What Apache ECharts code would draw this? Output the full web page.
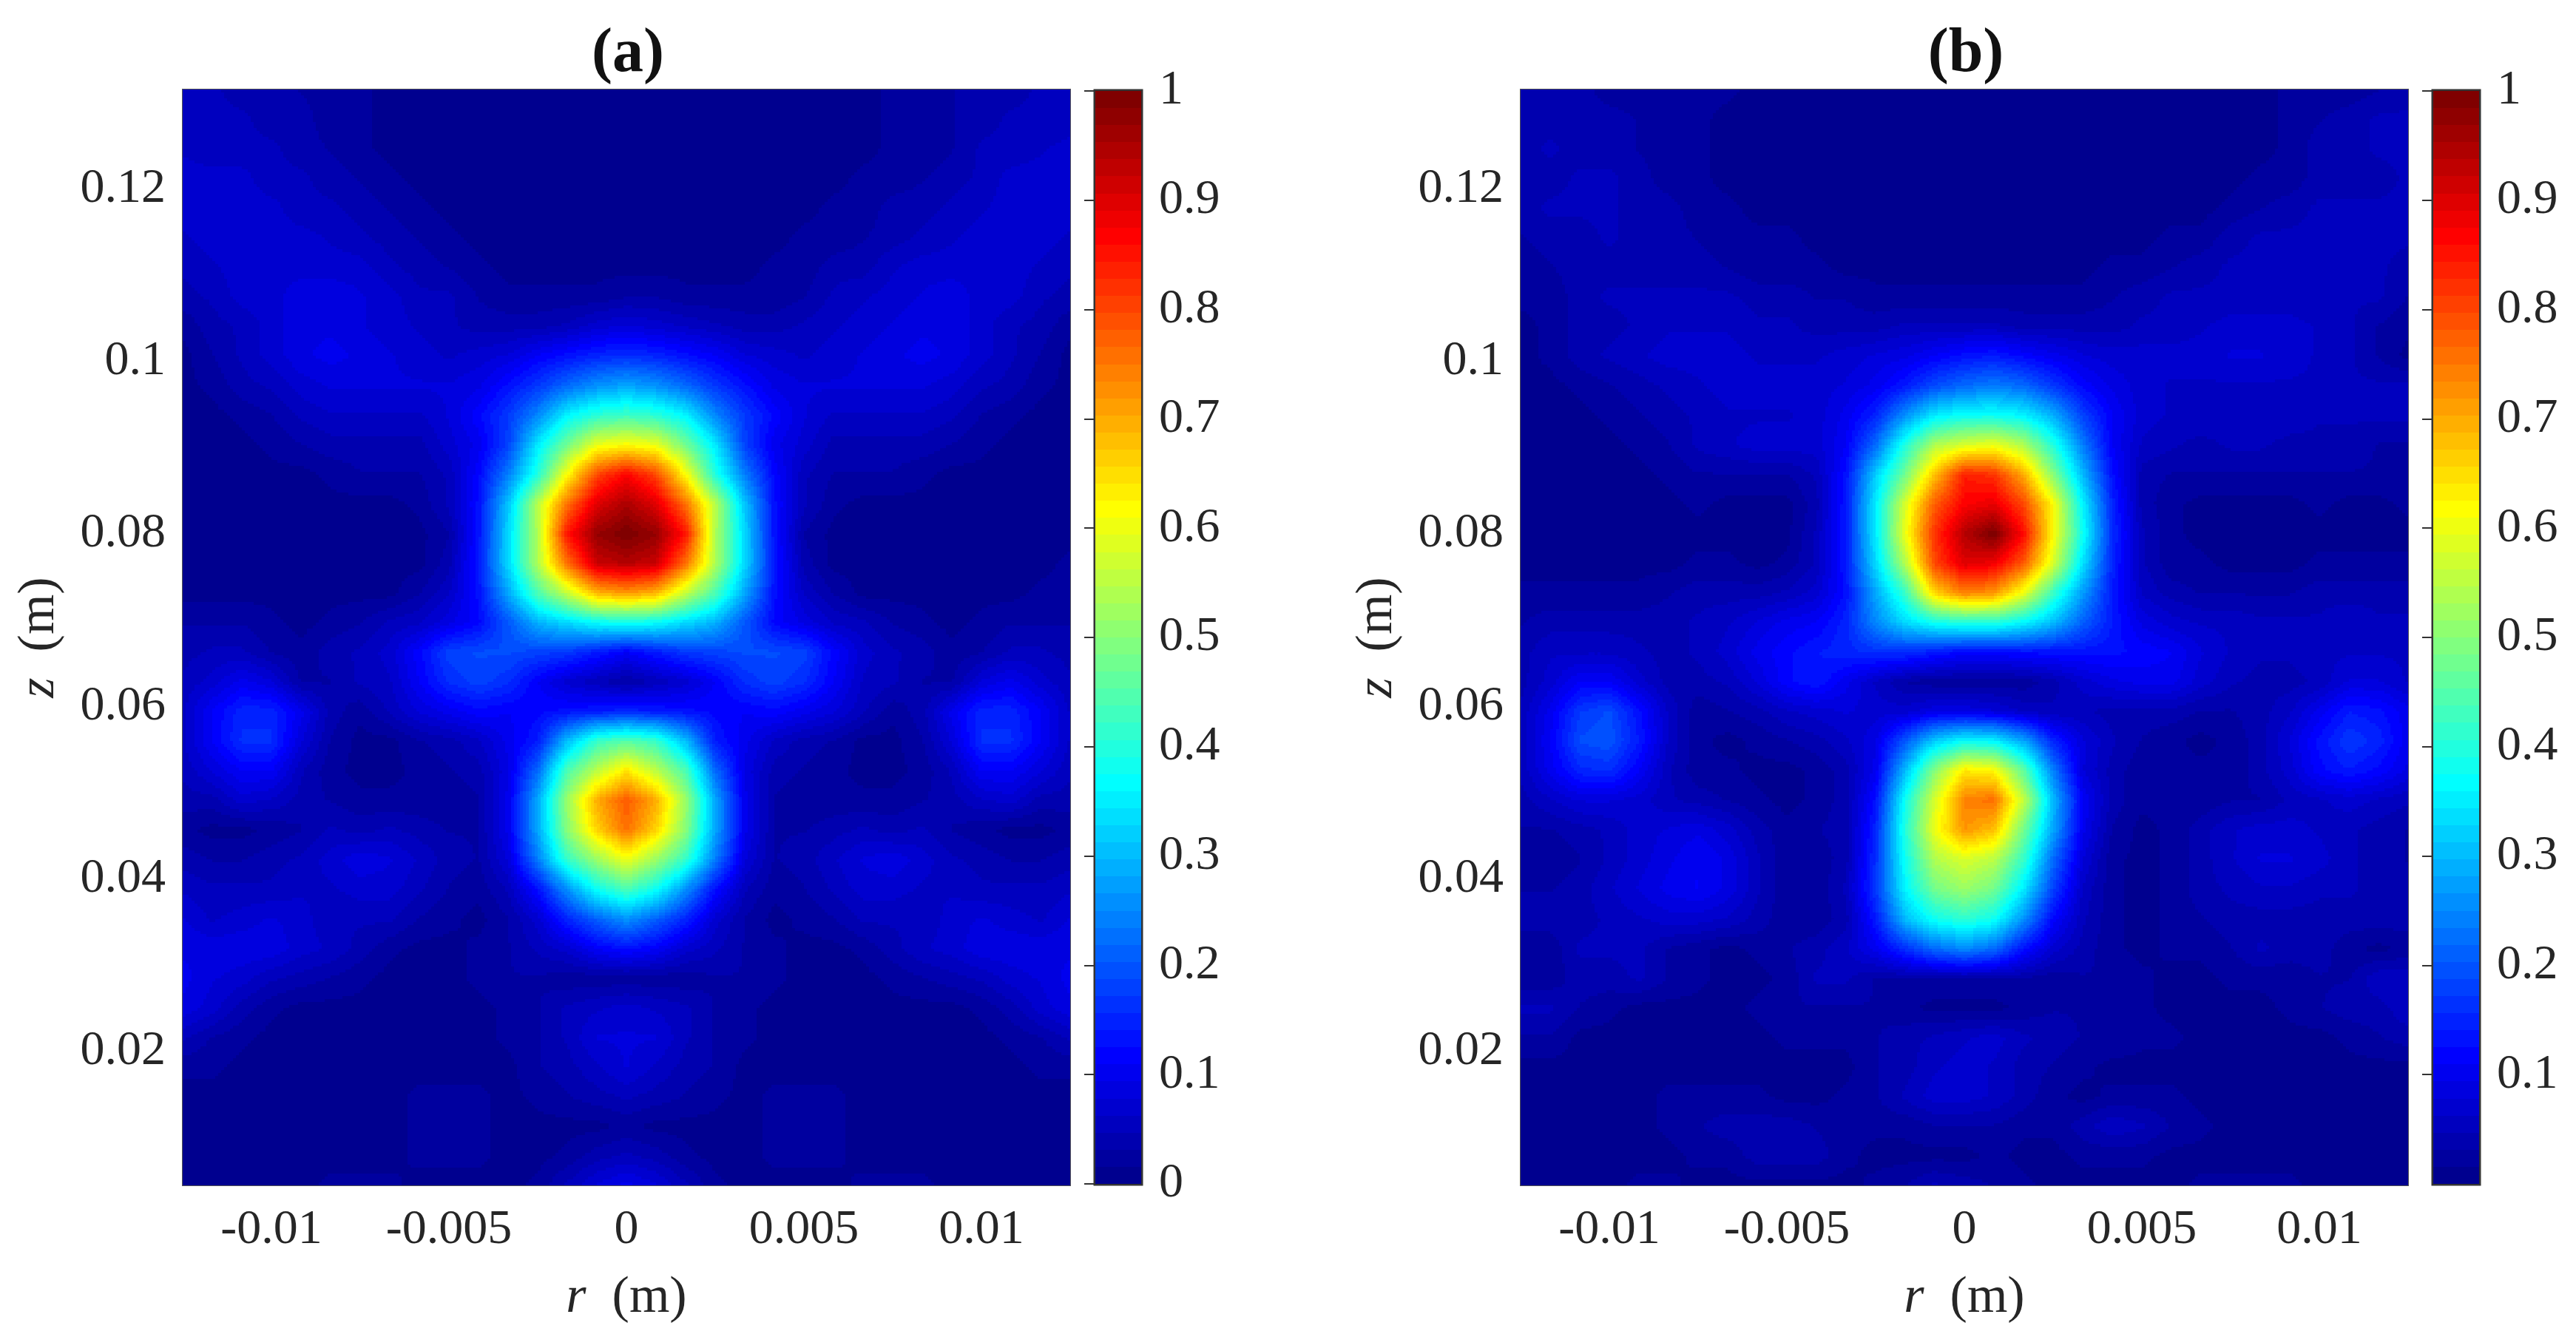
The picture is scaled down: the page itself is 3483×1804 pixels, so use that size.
<!DOCTYPE html>
<html>
<head>
<meta charset="utf-8">
<title>Field maps</title>
<script src="https://cdn.jsdelivr.net/npm/echarts@6/dist/echarts.min.js"></script>
<style>
  html, body { margin: 0; padding: 0; background: #fff; }
  #chart { width: 3483px; height: 1804px; }
</style>
</head>
<body>
<div id="chart"></div>
<script>
// axis ranges and ticks
const rRange = [-0.0125, 0.0125];
const zRange = [0.0045, 0.1315];
const rTicks = [-0.01, -0.005, 0, 0.005, 0.01];
const zTicks = [0.02, 0.04, 0.06, 0.08, 0.1, 0.12];
const barTicksA = [0, 0.1, 0.2, 0.3, 0.4, 0.5, 0.6, 0.7, 0.8, 0.9, 1];
const barTicksB = [0.1, 0.2, 0.3, 0.4, 0.5, 0.6, 0.7, 0.8, 0.9, 1];

// field values in hundredths. rows run top to bottom, columns left to right
const fieldA = [
  [5,5,4,4,3,2,2,1,1,1,1,1,1,1,1,1,1,1,1,1,1,1,1,1,2,2,3,4,4,5,5],
  [5,5,5,4,4,2,2,1,1,1,1,1,1,1,1,1,1,1,1,1,1,1,1,1,2,2,3,4,5,5,5],
  [6,5,5,5,4,3,2,1,1,1,1,1,1,1,1,1,1,1,1,1,1,1,1,1,2,2,3,5,5,6,7],
  [7,7,7,5,5,4,3,2,1,1,1,1,1,1,1,1,1,1,1,1,1,1,1,2,2,3,4,5,7,7,7],
  [7,7,7,7,5,5,4,3,2,1,1,1,1,1,1,1,1,1,1,1,1,1,2,2,4,4,5,6,7,7,7],
  [6,7,7,7,7,6,5,4,3,2,1,1,1,1,1,1,1,1,1,1,1,2,2,3,4,5,6,7,7,7,6],
  [5,6,7,7,7,7,7,5,4,3,2,1,1,1,1,1,1,1,1,1,2,2,4,4,6,7,7,7,7,6,5],
  [4,5,7,7,9,9,8,7,5,5,3,2,2,2,2,3,3,2,2,2,2,3,5,6,7,8,9,7,7,5,4],
  [2,4,5,7,9,9,8,7,6,5,4,4,4,5,7,8,7,6,5,4,4,5,6,7,8,9,9,7,5,4,2],
  [1,3,5,7,9,10,9,8,7,6,7,8,11,13,15,16,15,13,11,8,7,6,7,8,9,10,9,7,5,3,1],
  [1,2,4,5,7,8,8,8,8,8,9,13,17,22,26,28,26,22,17,13,9,8,8,8,8,8,7,5,4,2,1],
  [1,1,2,3,5,6,6,6,6,8,12,17,25,36,41,43,41,36,25,17,12,8,6,6,6,6,5,3,2,1,1],
  [1,1,1,2,3,4,4,4,4,7,10,18,35,48,60,62,60,48,35,18,10,7,4,4,4,4,3,2,1,1,1],
  [1,1,1,1,1,2,3,3,3,5,12,24,40,62,80,87,80,62,40,24,12,5,3,3,3,2,1,1,1,1,1],
  [1,1,1,1,1,1,1,1,2,5,13,31,55,76,90,95,90,76,55,31,13,5,2,1,1,1,1,1,1,1,1],
  [1,1,1,1,1,1,1,1,1,3,13,33,54,85,97,100,97,85,54,33,13,3,1,1,1,1,1,1,1,1,1],
  [1,1,1,1,1,1,1,1,1,4,14,33,54,76,92,94,92,76,54,33,14,4,1,1,1,1,1,1,1,1,2],
  [1,1,1,1,1,1,1,1,3,6,13,28,44,56,69,72,69,56,44,28,13,6,3,1,1,1,1,1,1,2,2],
  [3,3,3,2,1,2,3,5,6,9,12,20,29,33,37,38,37,33,29,20,12,9,6,5,3,2,1,2,3,3,3],
  [4,5,5,3,2,4,5,7,12,18,19,19,18,17,14,11,14,17,18,19,19,18,12,7,5,4,2,3,5,5,4],
  [5,7,10,8,3,3,5,6,11,16,18,16,11,7,5,3,5,7,11,16,18,16,11,6,5,3,3,8,10,7,5],
  [6,11,15,15,10,4,2,5,8,10,12,11,12,13,14,15,14,13,12,11,12,10,8,5,2,4,10,15,15,11,6],
  [6,11,16,16,8,3,1,1,3,4,6,10,14,30,42,45,42,30,14,10,6,4,3,1,1,3,8,16,16,11,6],
  [5,8,11,11,5,2,1,1,2,3,4,9,22,44,55,64,55,44,22,9,4,3,2,1,1,2,5,11,11,8,5],
  [4,4,7,6,4,3,2,2,2,2,3,10,28,52,70,78,70,52,28,10,3,2,2,2,2,3,4,6,7,4,4],
  [2,1,1,2,3,5,4,5,4,3,3,10,28,50,66,76,66,50,28,10,3,3,4,5,4,5,3,2,1,1,2],
  [4,3,3,4,5,7,9,8,6,4,3,8,24,42,52,60,52,42,24,8,3,4,6,8,9,7,5,4,3,3,4],
  [6,5,5,5,6,6,7,7,5,3,2,5,13,26,38,44,38,26,13,5,2,3,5,7,7,6,6,5,5,5,6],
  [8,6,7,8,7,5,5,5,3,2,1,3,7,15,21,26,21,15,7,3,1,2,3,5,5,5,7,8,7,6,8],
  [9,9,9,9,7,6,4,2,1,1,2,3,5,7,11,13,11,7,5,3,2,1,1,2,4,6,7,9,9,9,9],
  [10,8,7,5,4,3,2,1,1,1,2,3,3,2,2,2,2,2,3,3,2,1,1,1,2,3,4,5,7,8,10],
  [9,7,4,2,1,1,1,1,1,1,1,2,3,5,6,7,6,5,3,2,1,1,1,1,1,1,1,2,4,7,9],
  [5,3,2,1,1,1,1,1,1,1,1,2,3,5,8,8,8,5,3,2,1,1,1,1,1,1,1,1,2,3,5],
  [2,2,1,1,1,1,1,1,1,1,1,1,3,4,6,8,6,4,3,1,1,1,1,1,1,1,1,1,1,2,2],
  [1,1,1,1,1,1,1,1,2,2,2,1,2,3,4,5,4,3,2,1,2,2,2,1,1,1,1,1,1,1,1],
  [1,1,1,1,1,1,1,1,2,2,2,1,1,1,1,2,1,1,1,1,2,2,2,1,1,1,1,1,1,1,1],
  [1,1,1,1,1,1,1,1,2,2,2,1,1,2,4,5,4,2,1,1,2,2,2,1,1,1,1,1,1,1,1],
  [1,1,1,1,1,2,2,2,1,1,1,1,2,5,8,10,8,5,2,1,1,1,1,2,2,2,1,1,1,1,1]
];
const fieldB = [
  [4,4,4,2,2,2,2,2,1,1,1,1,1,1,1,1,1,1,1,1,1,1,1,1,1,1,2,2,2,3,4],
  [4,4,4,4,3,2,2,1,1,1,1,1,1,1,1,1,1,1,1,1,1,1,1,1,1,1,2,3,4,5,5],
  [4,5,4,4,3,2,2,1,1,1,1,1,1,1,1,1,1,1,1,1,1,1,1,1,1,1,2,4,4,5,5],
  [4,4,5,5,4,2,2,1,1,1,1,1,1,1,1,1,1,1,1,1,1,1,1,1,1,2,2,4,4,4,5],
  [4,5,5,5,4,4,2,2,1,1,1,1,1,1,1,1,1,1,1,1,1,1,1,1,2,3,4,5,5,5,5],
  [3,4,4,5,4,4,3,2,2,2,1,1,1,1,1,1,1,1,1,1,1,1,2,2,4,5,5,5,5,5,5],
  [2,3,4,4,4,4,4,3,2,2,2,1,1,1,1,1,1,1,1,1,2,2,3,4,5,5,5,5,6,5,4],
  [2,2,4,5,5,5,5,5,4,4,3,3,2,2,2,2,2,2,2,2,3,4,5,5,5,5,5,5,5,5,3],
  [1,2,4,4,5,6,6,6,5,5,4,4,4,5,5,5,5,4,4,4,4,5,5,6,7,7,7,6,5,3,2],
  [1,2,4,5,6,7,7,7,6,6,6,7,8,9,11,13,14,12,10,8,7,7,7,7,8,8,7,6,5,3,1],
  [1,1,2,3,4,5,6,7,7,7,7,8,10,14,19,22,24,22,17,12,9,7,6,6,6,6,6,6,5,5,5],
  [1,1,1,2,3,4,5,6,6,6,7,10,15,26,35,38,38,36,29,18,11,7,6,6,6,6,6,5,5,5,5],
  [1,1,1,1,2,3,5,6,7,7,7,11,22,40,54,58,60,54,40,24,11,6,5,4,5,5,4,4,4,3,3],
  [1,1,1,1,1,2,3,3,3,3,5,13,32,48,68,84,82,70,50,30,13,4,3,3,3,3,3,3,3,3,3],
  [1,1,1,1,1,1,2,1,1,1,4,14,35,58,78,87,89,80,62,36,15,4,2,1,1,1,1,2,1,1,2],
  [1,1,1,1,1,1,1,1,1,1,5,14,35,60,82,94,100,86,62,38,16,5,2,1,1,1,1,1,1,1,1],
  [1,1,1,1,1,1,2,2,1,2,5,14,33,54,80,90,88,78,58,34,15,5,2,2,1,1,1,2,2,2,2],
  [2,2,2,2,2,3,4,4,4,5,7,13,28,42,66,74,72,60,42,27,14,6,4,3,3,3,3,4,4,4,4],
  [3,4,4,4,4,4,5,6,8,10,11,15,25,33,38,40,40,36,30,21,14,9,7,6,6,5,5,5,6,5,5],
  [4,6,6,6,5,4,5,7,10,12,14,15,16,16,14,12,12,13,13,13,13,12,11,8,6,5,5,6,6,6,6],
  [4,7,11,11,7,4,4,5,8,12,14,10,6,3,2,2,2,2,4,7,9,10,10,7,5,4,4,5,8,8,6],
  [5,10,17,19,13,6,2,3,4,6,7,8,7,7,9,9,8,6,5,5,4,4,4,3,3,4,6,10,14,13,10],
  [5,11,19,20,14,6,2,1,2,3,4,6,9,20,32,37,36,28,15,8,5,3,2,1,2,4,8,13,17,15,10],
  [5,10,15,16,11,5,2,2,1,1,2,4,10,30,50,64,62,46,24,8,4,2,2,2,2,4,7,12,14,12,9],
  [4,6,8,8,7,5,4,3,2,1,2,4,13,38,58,74,76,56,30,11,4,2,2,2,3,3,5,6,7,6,5],
  [3,3,4,5,7,8,9,7,4,2,3,4,15,40,60,72,68,48,28,10,3,1,2,4,6,7,7,6,5,4,3],
  [2,2,3,5,7,9,11,9,5,2,2,4,16,38,54,58,55,42,22,8,2,1,2,4,6,8,8,7,5,4,3],
  [3,3,4,6,8,10,11,9,5,2,2,5,17,36,48,52,48,35,18,6,2,1,2,4,5,6,6,5,5,4,4],
  [4,4,4,5,6,7,7,6,4,2,2,4,14,30,38,41,38,26,12,5,2,1,2,3,4,4,4,4,4,4,4],
  [2,2,5,5,5,3,2,1,2,3,4,6,10,16,22,25,22,13,7,4,2,1,2,2,3,5,4,4,2,1,2],
  [2,2,4,4,5,3,2,1,1,2,5,5,3,3,3,3,3,3,2,3,3,2,1,1,2,2,2,3,3,6,6],
  [5,5,3,2,1,1,1,1,2,3,3,3,3,2,1,1,1,2,3,3,3,2,1,1,1,1,2,3,4,4,6],
  [3,3,1,1,1,1,1,1,1,2,2,2,3,4,5,6,7,5,4,3,3,2,2,1,1,1,1,1,2,3,4],
  [1,1,1,1,1,1,1,1,1,1,1,1,3,4,6,7,6,4,3,2,1,1,1,1,1,1,1,1,1,1,1],
  [1,1,1,1,1,2,2,2,2,1,1,2,3,5,7,7,6,4,2,1,2,2,2,1,1,1,1,1,1,1,1],
  [1,1,1,1,1,2,3,4,4,4,3,2,2,2,3,3,3,2,2,4,6,5,3,2,1,1,1,1,1,1,1],
  [1,1,1,1,1,1,2,2,4,4,4,2,1,1,1,1,2,1,1,2,2,2,1,1,1,1,1,1,1,1,1],
  [1,1,1,1,2,2,1,1,1,1,1,1,2,3,5,4,3,2,1,1,1,1,1,2,2,2,2,1,1,1,1]
];

const FONT = '"Liberation Serif", serif';
const TEXT = '#262626';
const FONT_SIZE = 66;
const NAME_SIZE = 70;
const SHADE_STEP = 4;

// matlab jet with 64 levels
function jetColor(t) {
  const k = Math.min(63, Math.max(0, Math.floor(t * 64))) + 1;
  const x = k / 64;
  const ch = (c) => Math.round(255 * Math.min(1, Math.max(0, 1.5 - Math.abs(4 * x - c))));
  return 'rgb(' + ch(3) + ',' + ch(2) + ',' + ch(1) + ')';
}

function buildData(field) {
  const rows = field.length, cols = field[0].length;
  const out = [];
  for (let j = 0; j < rows; j++) {
    for (let i = 0; i < cols; i++) {
      const r = rRange[0] + i * (rRange[1] - rRange[0]) / (cols - 1);
      const z = zRange[1] - j * (zRange[1] - zRange[0]) / (rows - 1);
      out.push([r, z, field[j][i] / 100]);
    }
  }
  return out;
}

// one cell between four samples, shaded on screen
function fieldRenderer(field) {
  const rows = field.length, cols = field[0].length;
  return function (params, api) {
    const i = params.dataIndex % cols;
    const j = Math.floor(params.dataIndex / cols);
    if (i === cols - 1 || j === rows - 1) return null;
    const tl = api.coord([api.value(0), api.value(1)]);
    const stepR = (rRange[1] - rRange[0]) / (cols - 1);
    const stepZ = (zRange[1] - zRange[0]) / (rows - 1);
    const br = api.coord([api.value(0) + stepR, api.value(1) - stepZ]);
    const x0 = Math.round(tl[0]), y0 = Math.round(tl[1]);
    const x1 = Math.round(br[0]), y1 = Math.round(br[1]);
    const a = field[j][i] / 100, b = field[j][i + 1] / 100;
    const c = field[j + 1][i] / 100, d = field[j + 1][i + 1] / 100;
    const children = [];
    for (let y = y0; y < y1; y += SHADE_STEP) {
      const h = Math.min(SHADE_STEP, y1 - y);
      const v = (y + h / 2 - y0) / (y1 - y0);
      let runStart = x0, runColor = null;
      for (let x = x0; x < x1; x += SHADE_STEP) {
        const u = (x + SHADE_STEP / 2 - x0) / (x1 - x0);
        const t = (a * (1 - u) + b * u) * (1 - v) + (c * (1 - u) + d * u) * v;
        const color = jetColor(t);
        if (color !== runColor) {
          if (runColor) children.push({ type: 'rect', shape: { x: runStart, y: y, width: x - runStart, height: h }, style: { fill: runColor } });
          runStart = x;
          runColor = color;
        }
      }
      children.push({ type: 'rect', shape: { x: runStart, y: y, width: x1 - runStart, height: h }, style: { fill: runColor } });
    }
    return { type: 'group', children: children, silent: true };
  };
}

// colorbar levels
const barLevels = [];
for (let k = 0; k < 64; k++) barLevels.push(k);
function barRenderer(params, api) {
  const k = api.value(0);
  const p0 = api.coord([0, k / 64]);
  const p1 = api.coord([1, (k + 1) / 64]);
  const y = Math.round(p1[1]);
  return {
    type: 'rect',
    shape: { x: p0[0], y: y, width: p1[0] - p0[0], height: Math.round(p0[1]) - y },
    style: { fill: jetColor((k + 0.5) / 64) },
    silent: true
  };
}

const panels = [
  { left: 247, field: fieldA, barLeft: 1481, barMin: 0, barTicks: barTicksA, title: '(a)' },
  { left: 2056, field: fieldB, barLeft: 3290, barMin: 0, barTicks: barTicksB, title: '(b)' }
];

const grid = [], xAxis = [], yAxis = [], series = [], title = [];
const labelStyle = { fontFamily: FONT, fontSize: FONT_SIZE, color: TEXT };
const nameStyle = { fontFamily: FONT, fontSize: NAME_SIZE, color: TEXT };
const nameRich = { i: Object.assign({}, nameStyle, { fontStyle: 'italic' }), t: nameStyle };

panels.forEach(function (p) {
  const g = grid.length;
  grid.push({ left: p.left, top: 121, width: 1200, height: 1482, show: true, borderColor: '#555', borderWidth: 2, backgroundColor: 'transparent' });
  grid.push({ left: p.barLeft, top: 123, width: 62, height: 1478, show: true, borderColor: '#333', borderWidth: 5, backgroundColor: 'transparent' });

  title.push({
    text: p.title,
    left: p.left + 597,
    top: 27,
    textAlign: 'center',
    textStyle: { fontFamily: FONT, fontSize: 84, fontWeight: 'bold', color: '#111' }
  });

  xAxis.push({
    gridIndex: g, type: 'value', min: rRange[0], max: rRange[1],
    name: '{i|r}{t|  (m)}', nameLocation: 'middle', nameGap: 118,
    nameTextStyle: Object.assign({}, nameStyle, { rich: nameRich }),
    splitLine: { show: false }, axisLine: { show: false }, axisTick: { show: false },
    axisLabel: Object.assign({}, labelStyle, { customValues: rTicks, margin: 28, formatter: (v) => String(v) })
  });
  yAxis.push({
    gridIndex: g, type: 'value', min: zRange[0], max: zRange[1],
    name: '{i|z}{t|  (m)}', nameLocation: 'middle', nameGap: 158,
    nameTextStyle: Object.assign({}, nameStyle, { rich: nameRich }),
    splitLine: { show: false }, axisLine: { show: false }, axisTick: { show: false },
    axisLabel: Object.assign({}, labelStyle, { customValues: zTicks, margin: 23, formatter: (v) => String(v) })
  });
  xAxis.push({ gridIndex: g + 1, type: 'value', min: 0, max: 1, show: false });
  yAxis.push({
    gridIndex: g + 1, type: 'value', min: p.barMin, max: 1, position: 'right', z: 5,
    splitLine: { show: false }, axisLine: { show: false },
    axisTick: { show: true, inside: true, length: 15, customValues: p.barTicks, lineStyle: { color: '#333', width: 2 } },
    axisLabel: Object.assign({}, labelStyle, { customValues: p.barTicks, margin: 24, padding: [0, 0, 10, 0], formatter: (v) => String(v) })
  });

  series.push({
    type: 'custom', xAxisIndex: g, yAxisIndex: g, coordinateSystem: 'cartesian2d',
    data: buildData(p.field), encode: { x: 0, y: 1 }, renderItem: fieldRenderer(p.field),
    clip: true, silent: true, animation: false, progressive: 0, z: 1
  });
  series.push({
    type: 'custom', xAxisIndex: g + 1, yAxisIndex: g + 1, coordinateSystem: 'cartesian2d',
    data: barLevels.map((k) => [k]), encode: { y: 0 }, renderItem: barRenderer,
    silent: true, animation: false, z: 1
  });
});

const chart = echarts.init(document.getElementById('chart'), null, { renderer: 'canvas' });
chart.setOption({
  animation: false,
  backgroundColor: '#fff',
  title: title,
  grid: grid,
  xAxis: xAxis,
  yAxis: yAxis,
  series: series
});
</script>
</body>
</html>
